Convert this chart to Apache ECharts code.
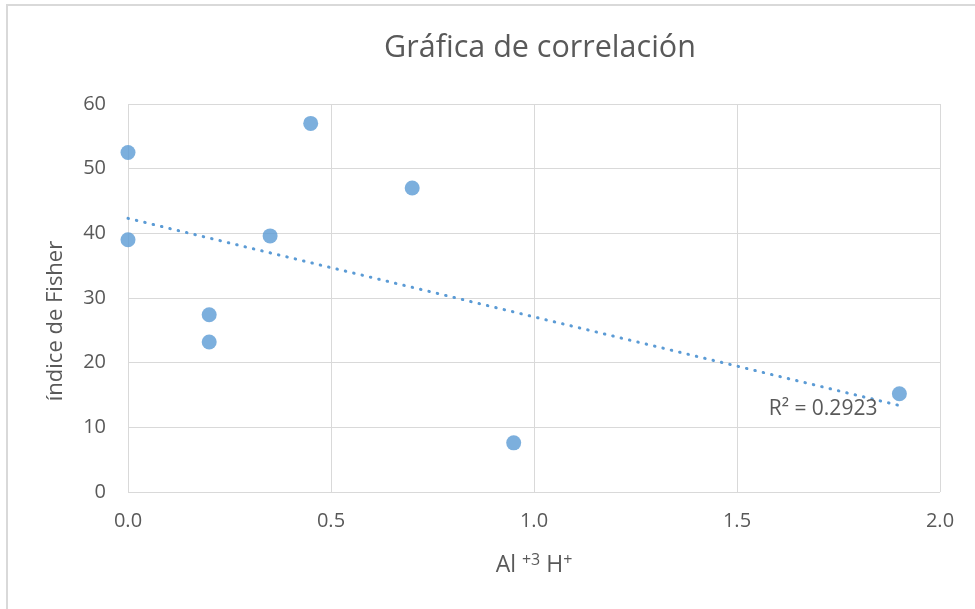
<!DOCTYPE html>
<html>
<head>
<meta charset="utf-8">
<script src="https://cdn.jsdelivr.net/npm/echarts@6/dist/echarts.min.js"></script>
<style>html,body{margin:0;padding:0;background:#fff;}#c{width:975px;height:609px;}</style>
</head>
<body>
<div id="c"></div>
<script>
const xValues = [0, 0, 0.2, 0.2, 0.35, 0.45, 0.7, 0.95, 1.9];
const yValues = [52.5, 39, 27.4, 23.2, 39.6, 57, 47, 7.6, 15.2];
const xTicks = ['0.0', '0.5', '1.0', '1.5', '2.0'];
const titleText = 'Gráfica de correlación';
const yName = 'índice de Fisher';
const r2Text = 'R² = 0.2923';

const points = xValues.map((x, i) => [x, yValues[i]]);
// linear least-squares trendline computed from the data
const n = xValues.length;
const mx = xValues.reduce((a, b) => a + b, 0) / n;
const my = yValues.reduce((a, b) => a + b, 0) / n;
let sxy = 0, sxx = 0;
for (let i = 0; i < n; i++) { sxy += (xValues[i] - mx) * (yValues[i] - my); sxx += (xValues[i] - mx) ** 2; }
const slope = sxy / sxx, intercept = my - slope * mx;
const xMin = Math.min(...xValues), xMax = Math.max(...xValues);
const trend = [[xMin, intercept + slope * xMin], [xMax, intercept + slope * xMax]];

const FONT = '"Open Sans"';
const GRAY = '#595959';
const chart = echarts.init(document.getElementById('c'), null, {renderer: 'canvas'});
chart.setOption({
  animation: false,
  backgroundColor: '#fff',
  graphic: [
    {type: 'rect', shape: {x: 7, y: 5, width: 1000, height: 700}, style: {fill: 'none', stroke: '#d9d9d9', lineWidth: 2}, silent: true, z: -1},
    {type: 'text', x: 540, y: 48, style: {text: titleText, font: '30.5px ' + FONT, fill: GRAY, align: 'center', verticalAlign: 'middle'}},
    {type: 'text', x: 56, y: 321, rotation: Math.PI / 2, style: {text: yName, font: '22px ' + FONT, fill: GRAY, align: 'center', verticalAlign: 'middle'}},
    {type: 'text', x: 534, y: 565, style: {
      rich: {n: {font: '23px ' + FONT, fill: GRAY}, s: {font: '16px ' + FONT, fill: GRAY, verticalAlign: 'top', padding: [0, 0, 9, 0]}},
      text: '{n|Al }{s|+3}{n| H}{s|+}', align: 'center', verticalAlign: 'middle'}}
  ],
  grid: {left: 128, top: 104, width: 812, height: 388, containLabel: false},
  xAxis: {
    type: 'value', min: 0, max: 2, interval: 0.5,
    axisLine: {show: false}, axisTick: {show: false},
    splitLine: {show: true, lineStyle: {color: '#d9d9d9', width: 1}},
    axisLabel: {color: GRAY, fontFamily: 'Open Sans', fontSize: 20, margin: 19, formatter: (v) => xTicks[Math.round(v / 0.5)]}
  },
  yAxis: {
    type: 'value', min: 0, max: 60, interval: 10,
    axisLine: {show: false}, axisTick: {show: false},
    splitLine: {show: true, lineStyle: {color: '#d9d9d9', width: 1}},
    axisLabel: {color: GRAY, fontFamily: 'Open Sans', fontSize: 20, margin: 22}
  },
  series: [
    {
      type: 'line', data: trend, symbol: 'none', z: 3,
      lineStyle: {color: '#5b9bd5', width: 3, type: [0.5, 8.1], cap: 'round'},
      endLabel: {show: true, formatter: r2Text, color: GRAY, fontFamily: 'Open Sans', fontSize: 21, align: 'right', verticalAlign: 'middle', offset: [-30, 3]}
    },
    {
      type: 'scatter', data: points, symbol: 'circle', symbolSize: 15, z: 4,
      itemStyle: {color: '#5b9bd5', borderWidth: 0}
    }
  ]
});
</script>
</body>
</html>
